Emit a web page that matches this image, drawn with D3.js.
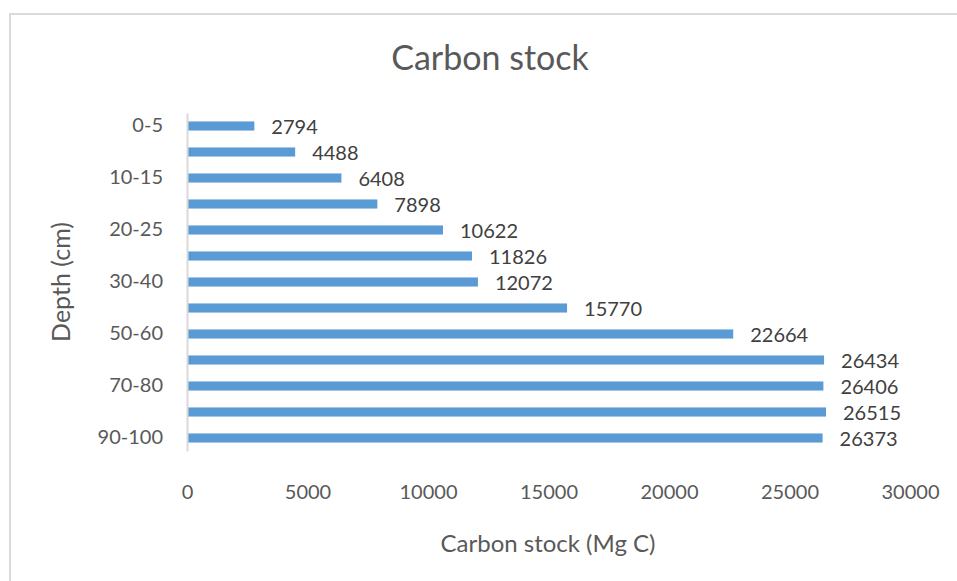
<!DOCTYPE html>
<html><head><meta charset="utf-8">
<script src="https://cdn.jsdelivr.net/npm/d3@7"></script>
<style>body{margin:0;background:#fff;} text{font-family:Lato,"Open Sans",sans-serif;}</style>
</head><body>
<svg id="c" width="957" height="581"></svg>
<script>
const categories = ["0-5","5-10","10-15","15-20","20-25","25-30","30-40","40-50","50-60","60-70","70-80","80-90","90-100"];
const values = [2794,4488,6408,7898,10622,11826,12072,15770,22664,26434,26406,26515,26373];
const xTicks = [0,5000,10000,15000,20000,25000,30000];
const shownCategoryLabels = ["0-5","10-15","20-25","30-40","50-60","70-80","90-100"];

const svg = d3.select("#c");
const L = 187, R = 910, T = 113, B = 451;

svg.append("rect").attr("x",10).attr("y",14).attr("width",960).attr("height",600)
  .attr("fill","#fff").attr("stroke","#d9d9d9").attr("stroke-width",2);

const x = d3.scaleLinear().domain([0,30000]).range([L,R]);
const y = d3.scaleBand().domain(categories).range([T,B]).paddingInner(0.65).paddingOuter(0.325);

svg.append("text").attr("x",490).attr("y",70).attr("text-anchor","middle")
  .attr("font-size",34).attr("fill","#595959").text("Carbon stock");

svg.selectAll("rect.bar").data(values).join("rect").attr("class","bar")
  .attr("x",x(0)).attr("y",(d,i)=>y(categories[i]))
  .attr("width",d=>x(d)-x(0)).attr("height",y.bandwidth())
  .attr("fill","#5b9bd5");

svg.selectAll("text.val").data(values).join("text").attr("class","val")
  .attr("x",d=>x(d)+17).attr("y",(d,i)=>y(categories[i])+y.bandwidth()/2)
  .attr("dy","0.38em").attr("font-size",20).attr("fill","#404040").text(d=>d);

// y axis
const yAxis = d3.axisLeft(y).tickSize(0).tickPadding(24)
  .tickFormat(d=>shownCategoryLabels.includes(d)?d:"");
const gy = svg.append("g").attr("transform",`translate(${L},0)`).call(yAxis);
gy.select(".domain").attr("stroke","#d9d9d9").attr("stroke-width",2);
gy.selectAll("text").attr("font-size",20).attr("fill","#595959").attr("font-family","Lato");

// x axis labels (no line)
const xAxis = d3.axisBottom(x).tickValues(xTicks).tickSize(0).tickPadding(0).tickFormat(d3.format("d"));
const gx = svg.append("g").attr("transform",`translate(0,${B+34})`).call(xAxis);
gx.select(".domain").remove();
gx.selectAll("text").attr("font-size",20).attr("fill","#595959").attr("font-family","Lato");

svg.append("text").attr("x",548).attr("y",552).attr("text-anchor","middle")
  .attr("font-size",24).attr("fill","#595959").text("Carbon stock (Mg C)");
svg.append("text").attr("transform","translate(70,282) rotate(-90)").attr("text-anchor","middle")
  .attr("font-size",25).attr("fill","#595959").text("Depth (cm)");
</script>
</body></html>
